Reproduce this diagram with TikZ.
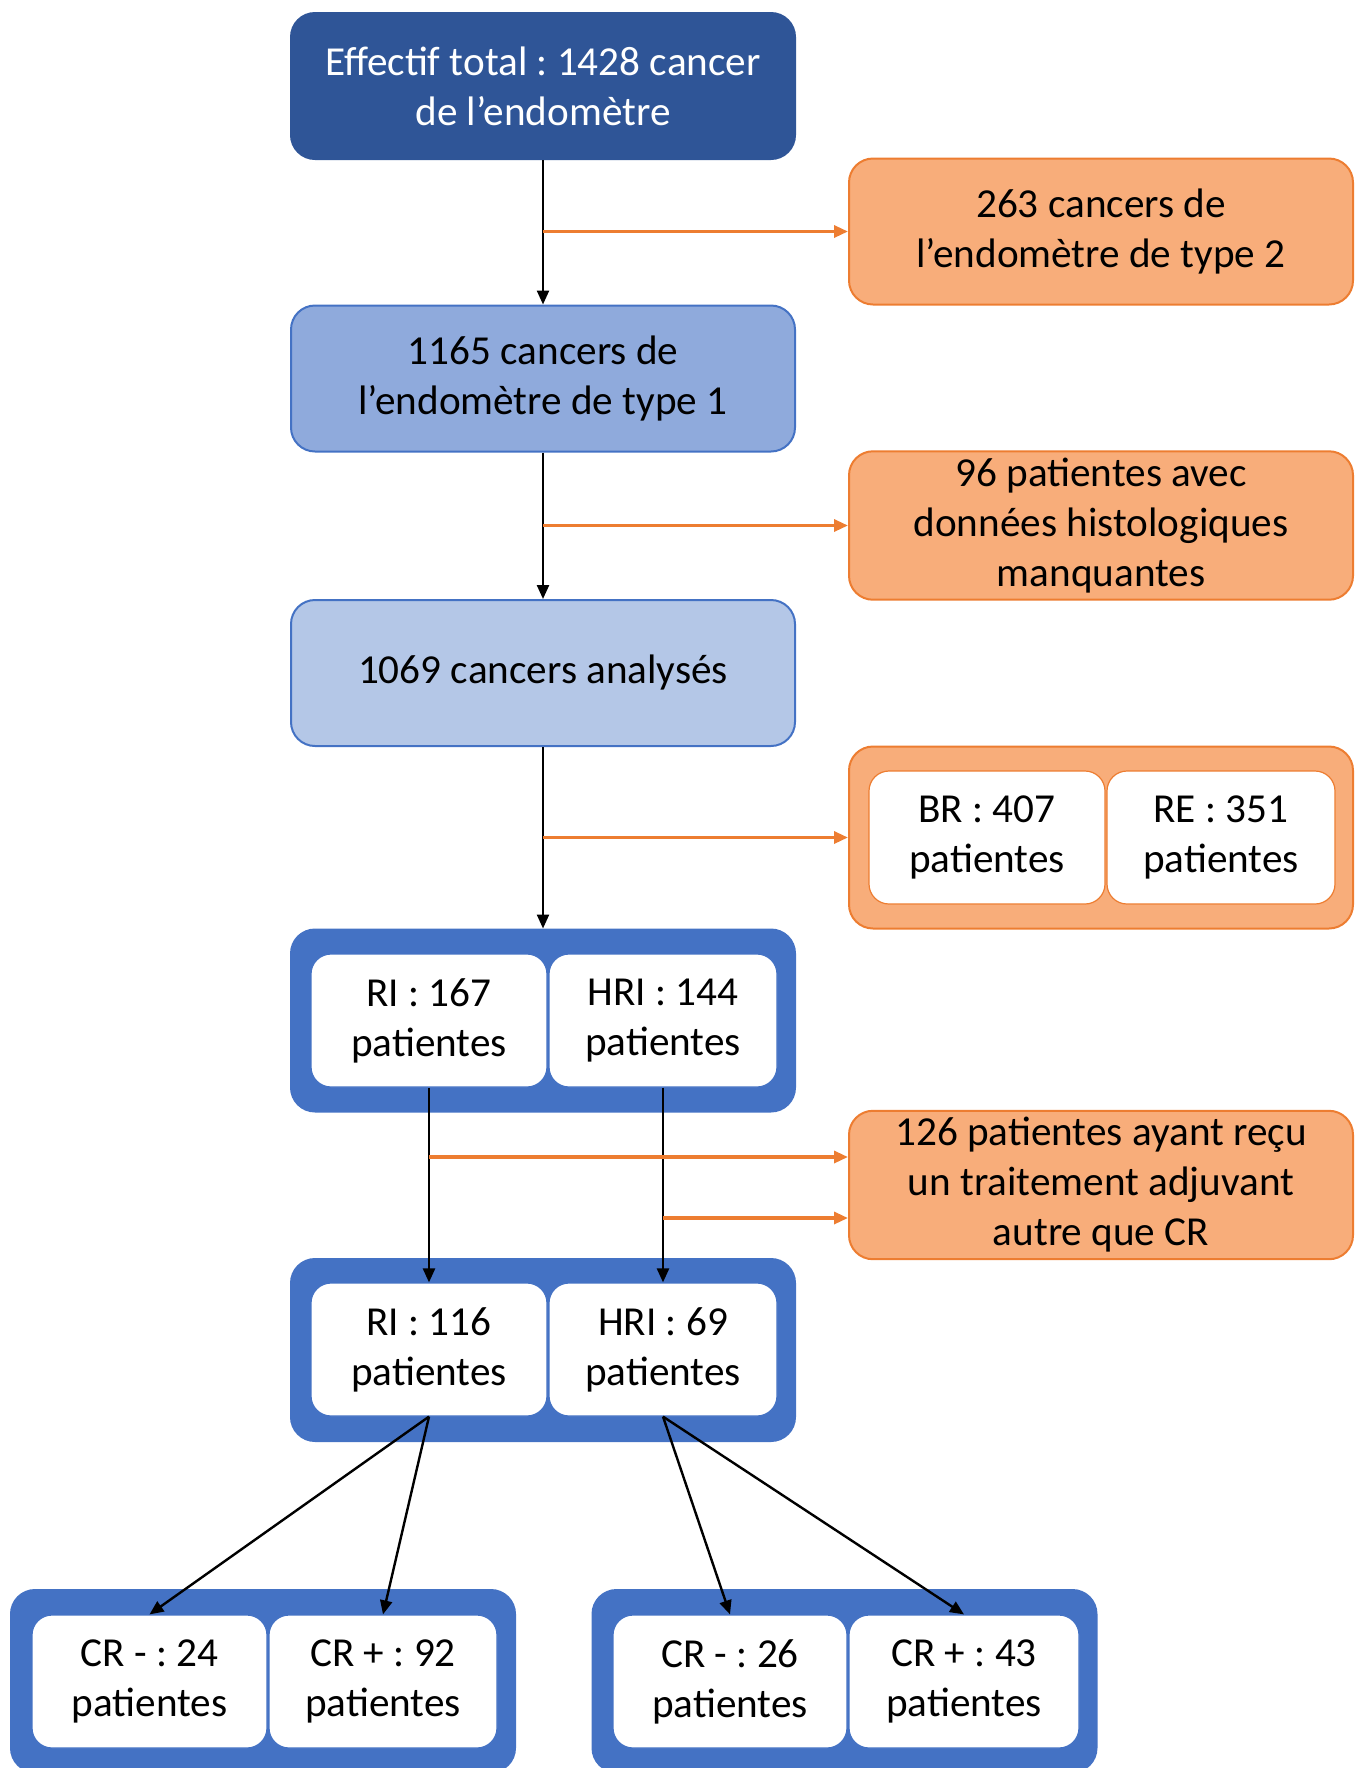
\documentclass[tikz,border=0pt]{standalone}
\usepackage{fontspec}
\setmainfont{Carlito}
\usetikzlibrary{arrows.meta}
\frenchspacing

\definecolor{darkblue}{HTML}{2F5597}
\definecolor{midblue}{HTML}{8FAADC}
\definecolor{paleblue}{HTML}{B4C7E7}
\definecolor{boxblue}{HTML}{4472C4}
\definecolor{boxorange}{HTML}{ED7D31}
\definecolor{lightorange}{HTML}{F8AD7A}

\tikzstyle{stage} =[shape=rectangle, rounded corners=12pt, draw=boxblue,
line width=1pt, minimum width=252pt, minimum height=73pt,
align=center, font=\fontsize{20.6}{25}\selectfont]
\tikzstyle{excl} =[stage, draw=boxorange, fill=lightorange]
\tikzstyle{group} =[stage, fill=boxblue, minimum height=91pt]
\tikzstyle{exclgroup} =[group, draw=boxorange, fill=lightorange]
\tikzstyle{cell} =[shape=rectangle, rounded corners=10pt, draw=boxblue,
line width=0.6pt, fill=white, minimum height=66.5pt,
align=center, font=\fontsize{20.6}{25}\selectfont]
\tikzstyle{flow} =[-{Triangle[length=7pt,width=6pt]}, line width=1.2pt, black]
\tikzstyle{drop} =[-{Triangle[length=7pt,width=6pt]}, line width=1.6pt, boxorange]

\begin{document}
\begin{tikzpicture}[x=0.5pt, y=-0.5pt]
\useasboundingbox (0,0) rectangle (1362,1768);

\node[stage, fill=darkblue, draw=darkblue, text=white] (total) at (543,86)
	{Effectif total : 1428 cancer\\de l’endomètre};
\node[excl] (type2) at (1101,231.5) {263 cancers de\\l’endomètre de type 2};
\node[stage, fill=midblue] (type1) at (543,378.5)
	{1165 cancers de\\l’endomètre de type 1};
\node[excl] (missing) at (1101,525.5)
	{96 patientes avec\\données histologiques\\manquantes};
\node[stage, fill=paleblue] (analysed) at (543,673) {1069 cancers analysés};

\node[exclgroup] (lowrisk) at (1101,837.5) {};
\node[cell, draw=boxorange, minimum width=118pt] (br) at (987,837.5)
	{BR : 407\\patientes};
\node[cell, draw=boxorange, minimum width=114pt] (re) at (1221,837.5)
	{RE : 351\\patientes};

\node[group] (risk) at (543,1020.5) {};
\node[cell, minimum width=118pt] (ri) at (429,1020.5) {RI : 167\\patientes};
\node[cell, minimum width=114pt] (hri) at (663,1020.5) {HRI : 144\\patientes};

\node[excl] (adjuvant) at (1101,1185)
	{126 patientes ayant reçu\\un traitement adjuvant\\autre que CR};

\node[group] (riskcr) at (543,1350) {};
\node[cell, minimum width=118pt] (ricr) at (429,1349.5) {RI : 116\\patientes};
\node[cell, minimum width=114pt] (hricr) at (663,1349.5) {HRI : 69\\patientes};

\node[group] (rigroup) at (263,1681) {};
\node[cell, minimum width=117.5pt] (rineg) at (149.5,1681.5) {CR - : 24\\patientes};
\node[cell, minimum width=114pt] (ripos) at (383,1681.5) {CR + : 92\\patientes};

\node[group] (hrigroup) at (844.5,1681) {};
\node[cell, minimum width=117pt] (hrineg) at (730,1681.5) {CR - : 26\\patientes};
\node[cell, minimum width=115pt] (hripos) at (964,1681.5) {CR + : 43\\patientes};

\draw[flow] (total) -- (type1);
\draw[flow] (type1) -- (analysed);
\draw[flow] (analysed) -- (risk);
\draw[drop] (total.south |- type2.west) -- (type2.west);
\draw[drop] (type1.south |- missing.west) -- (missing.west);
\draw[drop] (analysed.south |- lowrisk.west) -- (lowrisk.west);

\draw[flow] (ri.south) -- (ricr.north);
\draw[flow] (hri.south) -- (hricr.north);
\draw[drop] (ri.south |- 0,1157) -- (adjuvant.west |- 0,1157);
\draw[drop] (hri.south |- 0,1218) -- (adjuvant.west |- 0,1218);

\draw[flow] (ricr.south) -- (rineg.north);
\draw[flow] (ricr.south) -- (ripos.north);
\draw[flow] (hricr.south) -- (hrineg.north);
\draw[flow] (hricr.south) -- (hripos.north);
\end{tikzpicture}
\end{document}
